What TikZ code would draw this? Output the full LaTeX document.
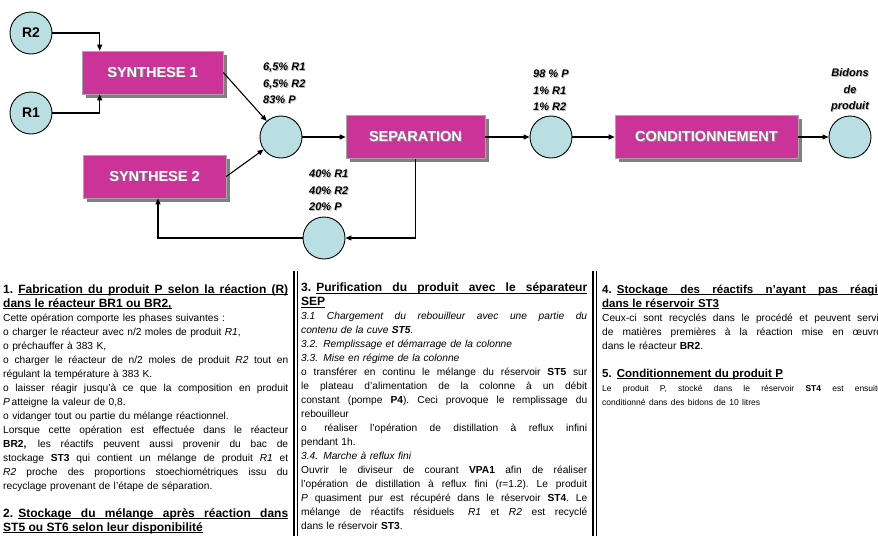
\documentclass[tikz,border=0pt]{standalone}
\usepackage{fontspec}
\setmainfont{Liberation Sans}
\usetikzlibrary{arrows.meta,shadows}
\definecolor{mag}{RGB}{204,51,153}
\definecolor{cyanfill}{RGB}{185,223,227}
\definecolor{shadowgray}{RGB}{128,128,128}
\newdimen\uldim
\newdimen\colw
\newsavebox\ulsave
\newcommand\stretchy{\spaceskip=\fontdimen2\font plus 1fil minus \fontdimen4\font\xspaceskip=\spaceskip}
\newcommand\jl[1]{\leavevmode\hbox to \colw{\stretchy#1}\par}
\newcommand\nl[1]{{#1}\par}
\newcommand\myul[1]{\sbox\ulsave{#1}\uldim=\wd\ulsave\makebox[0pt][l]{\rule[-1.8pt]{\uldim}{0.8pt}}\usebox\ulsave}
\newcommand\jlu[2]{\sbox\ulsave{#1}\uldim=\dimexpr\colw-\wd\ulsave\relax\leavevmode\usebox\ulsave\makebox[0pt][l]{\rule[-1.8pt]{\uldim}{0.8pt}}\hbox to \uldim{\stretchy#2}\par}
\newcommand\hd{\fontsize{12}{14}\selectfont\bfseries}
\newcommand\hdc{\fontsize{11.5}{14}\selectfont\bfseries}
\newcommand\shd[2][gray!55]{\makebox[0pt][l]{\hspace{0.9pt}\raisebox{-0.9pt}{\textcolor{#1}{#2}}}#2}
\begin{document}
\begin{tikzpicture}[x=1pt,y=-1pt,
  every node/.style={inner sep=0pt},
  circ/.style={circle, draw=black, line width=0.9pt, fill=cyanfill, minimum size=42pt, font=\fontsize{14}{16}\selectfont\bfseries},
  proc/.style={draw=gray!70, line width=0.6pt, fill=mag, text=white, font=\fontsize{14.5}{17}\selectfont\bfseries, minimum height=43pt, drop shadow={shadow xshift=3.5pt, shadow yshift=-3.5pt, fill=shadowgray, opacity=1}},
  arr/.style={draw=black, line width=1.1pt, -{Triangle[length=6pt,width=5pt]}},
  pct/.style={font=\fontsize{11}{16.5}\selectfont\bfseries\itshape},
  colbox/.style={anchor=base west, text width=300pt, font=\fontsize{10.2}{14}\selectfont},
  sepline/.style={draw=black}
]
\useasboundingbox (0,0) rectangle (878,536);
\clip (0,0) rectangle (878,536);
\fill[white] (0,0) rectangle (878,536);

% ---- flow diagram ----
\node[circ] (r2) at (31,33) {R2};
\node[circ] (r1) at (31,113) {R1};
\node[proc, minimum width=141pt] (s1) at (152.5,72.5) {\shd[black!45]{SYNTHESE 1}};
\node[proc, minimum width=143pt] (s2) at (154.5,176.5) {\shd[black!45]{SYNTHESE 2}};
\node[circ] (m1) at (281,137) {};
\node[proc, minimum width=139pt] (sep) at (415.5,137) {\shd[black!45]{SEPARATION}};
\node[circ] (m2) at (551,137) {};
\node[proc, minimum width=183pt] (cond) at (706.5,137) {\shd[black!45]{CONDITIONNEMENT}};
\node[circ] (m3) at (850,137) {};
\node[circ] (m4) at (324,238) {};

\node[pct, anchor=west, align=left] (lab1) at (263,84) {\shd{6,5\% R1}\\\shd{6,5\% R2}\\\shd{83\% P}};
\node[pct, anchor=west, align=left] (lab2) at (533,91) {\shd{98 \% P}\\\shd{1\% R1}\\\shd{1\% R2}};
\node[pct, align=center] (lab3) at (850,91) {\shd{Bidons}\\\shd{de}\\\shd{produit}};
\node[pct, anchor=west, align=left] (lab4) at (309,191) {\shd{40\% R1}\\\shd{40\% R2}\\\shd{20\% P}};

\draw[arr] (r2.east) -| ([xshift=18pt]s1.north west);
\draw[arr] (r1.east) -| ([xshift=18pt]s1.south west);
\draw[arr] (s1.east) -- (m1);
\draw[arr] (s2.east) -- (m1);
\draw[arr] (m1) -- (sep);
\draw[arr] (sep) -- (m2);
\draw[arr] (m2) -- (cond);
\draw[arr] (cond) -- (m3);
\draw[arr] (sep.south) |- (m4.east);
\draw[arr] (m4.west) -| ([xshift=3.5pt]s2.south);

% ---- column separators ----
\coordinate (sa1) at (294.3,271);
\coordinate (sa2) at (294.3,536);
\coordinate (sb1) at (296.9,271);
\coordinate (sb2) at (296.9,536);
\coordinate (sc1) at (593.3,271);
\coordinate (sc2) at (593.3,536);
\coordinate (sd1) at (595.9,271);
\coordinate (sd2) at (595.9,536);
\draw[sepline, line width=1.8pt] (sa1) -- (sa2);
\draw[sepline, line width=0.8pt] (sb1) -- (sb2);
\draw[sepline, line width=1.8pt] (sc1) -- (sc2);
\draw[sepline, line width=0.8pt] (sd1) -- (sd2);

% ---- column 1 ----
\node[colbox] (c1) at (3,293) {\colw=285pt
{\hd\jlu{1. }{Fabrication du produit P selon la réaction (R)}}
\nl{\hd\myul{dans le réacteur BR1 ou BR2,}}
\nl{Cette opération comporte les phases suivantes :}
\nl{o charger le réacteur avec n/2 moles de produit \textit{R1},}
\nl{o préchauffer à 383 K,}
\jl{o charger le réacteur de n/2 moles de produit \textit{R2} tout en}
\nl{régulant la température à 383 K.}
\jl{o laisser réagir jusqu'à ce que la composition en produit}
\nl{\textit{P}\,atteigne la valeur de 0,8.}
\nl{o vidanger tout ou partie du mélange réactionnel.}
\jl{Lorsque cette opération est effectuée dans le réacteur}
\jl{\textbf{BR2,} les réactifs peuvent aussi provenir du bac de}
\jl{stockage \textbf{ST3} qui contient un mélange de produit \textit{R1} et}
\jl{\textit{R2} proche des proportions stoechiométriques issu du}
\nl{recyclage provenant de l'étape de séparation.}
\vspace{14pt}
{\hd\jlu{2. }{Stockage du mélange après réaction dans}}
\nl{\hd\myul{ST5 ou ST6 selon leur disponibilité}}};

% ---- column 2 ----
\node[colbox] (c2) at (301,291.5) {\colw=286pt
{\hd\jlu{3. }{Purification du produit avec le séparateur}}
\nl{\hd\myul{SEP}}
\jl{\itshape 3.1 Chargement du rebouilleur avec une partie du}
\nl{\itshape contenu de la cuve \textbf{ST5}.}
\nl{\itshape 3.2. Remplissage et démarrage de la colonne}
\nl{\itshape 3.3. Mise en régime de la colonne}
\jl{o transférer en continu le mélange du réservoir \textbf{ST5} sur}
\jl{le plateau d'alimentation de la colonne à un débit}
\jl{constant (pompe \textbf{P4}). Ceci provoque le remplissage du}
\nl{rebouilleur}
\jl{o\hspace{5pt} réaliser l'opération de distillation à reflux infini}
\nl{pendant 1h.}
\nl{\itshape 3.4. Marche à reflux fini}
\jl{Ouvrir le diviseur de courant \textbf{VPA1} afin de réaliser}
\jl{l'opération de distillation à reflux fini (r=1.2). Le produit}
\jl{\textit{P} quasiment pur est récupéré dans le réservoir \textbf{ST4}. Le}
\jl{mélange de réactifs résiduels\hspace{4pt} \textit{R1} et \textit{R2} est recyclé}
\nl{dans le réservoir \textbf{ST3}.}};

% ---- column 3 ----
\node[colbox] (c3) at (602,293) {\colw=280pt
{\hdc\jlu{4. }{Stockage des réactifs n'ayant pas réagir}}
\nl{\hdc\myul{dans le réservoir ST3}}
\jl{Ceux-ci sont recyclés dans le procédé et peuvent servir}
\jl{de matières premières à la réaction mise en œuvre}
\nl{dans le réacteur \textbf{BR2}.}
\vspace{14pt}
\nl{\hdc 5. \myul{Conditionnement du produit P}}
\jl{\fontsize{8.5}{13}\selectfont Le produit P, stocké dans le réservoir \textbf{ST4} est ensuite}
\nl{\fontsize{8.5}{13}\selectfont conditionné dans des bidons de 10 litres}};
\end{tikzpicture}
\end{document}
